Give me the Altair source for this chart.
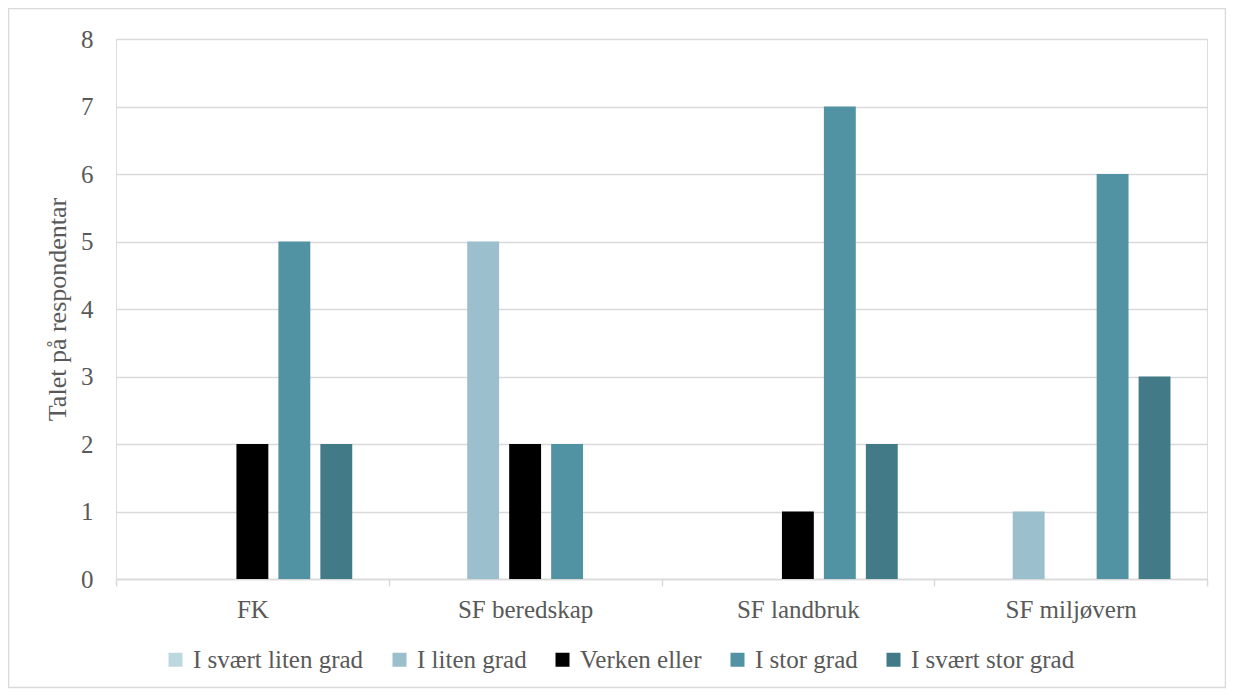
import altair as alt
import pandas as pd

categories = ["FK", "SF beredskap", "SF landbruk", "SF miljøvern"]
series = ["I svært liten grad", "I liten grad", "Verken eller", "I stor grad", "I svært stor grad"]
colors = ["#BDD7DE", "#9BBFCD", "#000000", "#5193A3", "#437A88"]
values = {
    "FK": [0, 0, 2, 5, 2],
    "SF beredskap": [0, 5, 2, 2, 0],
    "SF landbruk": [0, 0, 1, 7, 2],
    "SF miljøvern": [0, 1, 0, 6, 3],
}
y_ticks = [0, 1, 2, 3, 4, 5, 6, 7, 8]

rows = []
for c in categories:
    for s, v in zip(series, values[c]):
        rows.append({"kategori": c, "svar": s, "antal": v})
df = pd.DataFrame(rows)

FONT = "Liberation Serif"
TXT = "#595959"
GRID = "#d9d9d9"
W, H = 1091, 540

bars = alt.Chart(df).mark_bar().encode(
    x=alt.X("kategori:N", sort=categories,
            scale=alt.Scale(paddingInner=0, paddingOuter=0),
            axis=alt.Axis(title=None, labelAngle=0, labelFont=FONT, labelFontSize=25,
                          labelColor=TXT, labelPadding=11, domainColor=GRID, domainWidth=1.5,
                          tickColor=GRID, tickSize=7, tickWidth=1.5, tickBand="extent",
                          grid=False)),
    xOffset=alt.XOffset("svar:N", sort=series,
                        scale=alt.Scale(domain=series, paddingInner=0.24, paddingOuter=0.87)),
    y=alt.Y("antal:Q", scale=alt.Scale(domain=[0, 8], nice=False),
            axis=alt.Axis(title="Talet på respondentar", values=y_ticks, labelOverlap=False,
                          labelFont=FONT, labelFontSize=25, labelColor=TXT, labelPadding=23,
                          ticks=False, domain=False, gridColor=GRID, gridWidth=1.5,
                          titleFont=FONT, titleFontSize=26, titleFontWeight="normal",
                          titleColor=TXT, titlePadding=10)),
    color=alt.Color("svar:N", sort=series,
                    scale=alt.Scale(domain=series, range=colors),
                    legend=alt.Legend(title=None, orient="none", direction="horizontal",
                                      legendX=47, legendY=608, columns=5,
                                      symbolType="square", symbolSize=196,
                                      symbolStrokeWidth=0, labelFont=FONT, labelFontSize=25,
                                      labelLimit=400, labelColor=TXT, labelOffset=5,
                                      columnPadding=23, padding=0)),
)

border = alt.Chart(alt.Data(values=[{}])).mark_rect(
    fill="transparent", stroke=GRID, strokeWidth=1.5
).encode(
    x=alt.value(-107.5), x2=alt.value(W + 18.5),
    y=alt.value(-30.5), y2=alt.value(H + 108.5),
)

chart = alt.layer(bars, border).properties(
    width=W, height=H,
    autosize=alt.AutoSizeParams(type="none"),
    padding={"left": 108, "top": 31, "right": 19, "bottom": 110},
).configure_view(stroke=None).configure(background="white")

chart.save("out.html", embed_options={"renderer": "svg", "actions": False})
